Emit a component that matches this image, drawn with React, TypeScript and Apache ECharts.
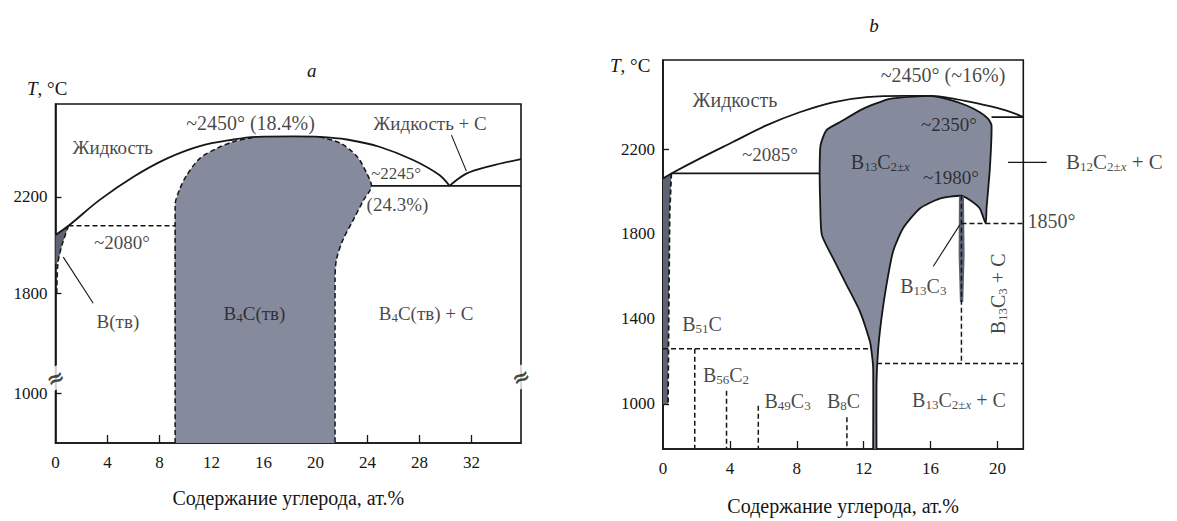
import React, { useEffect, useRef } from "react";
import * as echarts from "echarts";

type Pt = [number, number];

const SERIF = '"Liberation Serif", "Times New Roman", Times, serif';
const INK = "#161616";
const PHASE = "#858b9c";
const PHASE_DARK = "#5e6373";

// ---------------- Panel a: B–C diagram, temperature axis broken below 1800 °C
const A_X_MAX = 35.8;
const A_T_MIN = 600;
const A_T_MAX = 2584;
const A_X_TICKS = [0, 4, 8, 12, 16, 20, 24, 28, 32];
const A_T_TICKS = [1000, 1800, 2200];
const A_BREAK_TOP = 1800;
const A_POS_1000 = 1387; // axis position of the 1000 °C tick after the break
const A_LOW_SCALE = 0.516; // compression of the range below the break
const A_FAR = -4000; // closing corner of filled fields, well below the frame

const aY = (t: number) => (t >= A_BREAK_TOP ? t : A_POS_1000 + (t - 1000) * A_LOW_SCALE);

// liquidus from boron to the eutectic at 30.3 % C, through the B4C maximum
const A_LIQUIDUS: Pt[] = [
  [0, 2042], [1.0, 2080], [3.4, 2187], [6.0, 2283], [8.55, 2358], [11.1, 2410],
  [13.7, 2437], [15.5, 2448], [18.4, 2450], [20.3, 2448], [22.4, 2437],
  [24.9, 2407], [27.5, 2352], [29.55, 2289], [30.3, 2245],
];
// liquidus of carbon beyond the eutectic
const A_LIQUIDUS_C: Pt[] = [[30.3, 2245], [31.6, 2296], [33.5, 2328], [35.8, 2356]];
const A_EUTECTIC: Pt[] = [[24.3, 2245], [35.8, 2245]];
const A_LINE_2080: Pt[] = [[1.0, 2080], [9.2, 2080]];

// B4C homogeneity field
const A_B4C_LEFT: Pt[] = [
  [9.2, A_T_MIN], [9.2, 2165], [9.57, 2234], [10.1, 2290], [11.1, 2359], [12.4, 2400],
  [13.67, 2428], [15.2, 2445],
];
const A_B4C_TOP: Pt[] = [[18.4, 2450]];
const A_B4C_RIGHT: Pt[] = [
  [20.3, 2448], [21.9, 2422], [23.2, 2366], [23.95, 2296], [24.3, 2245], [23.7, 2187],
  [22.9, 2104], [22.1, 2021], [21.6, 1938], [21.5, 1855], [21.5, A_T_MIN],
];
// solid solution of carbon in boron
const A_B_SOLID: Pt[] = [[0, 2042], [1.0, 2080], [0.5, 2000], [0.2, 1930], [0, 1920]];
const A_B_SOLVUS: Pt[] = [[1.0, 2080], [0.5, 2000], [0.2, 1930], [0.12, 1850], [0.1, 1790]];

const A_LEADERS: Pt[][] = [
  [[0.6, 1950], [2.9, 1721]],
  [[30.45, 2455], [31.6, 2306]],
];

interface Note { text: string; at: Pt; size?: number; rotate?: number; font?: string }

const A_NOTES: Note[] = [
  { text: "Жидкость", at: [4.4, 2405] },
  { text: "~2450° (18.4%)", at: [15.0, 2505], size: 20 },
  { text: "Жидкость + C", at: [28.8, 2505] },
  { text: "~2245°", at: [26.2, 2298], size: 17 },
  { text: "(24.3%)", at: [26.3, 2166], size: 19 },
  { text: "~2080°", at: [5.1, 2009], size: 19 },
  { text: "B(тв)", at: [4.8, 1571] },
  { text: "B{s|4}C(тв)", at: [15.3, 1642] },
  { text: "B{s|4}C(тв) + C", at: [28.5, 1642] },
];
// axis-break marks on both frame sides
const A_BREAKS: Pt[] = [[0, 1121], [35.8, 1130]];

// ---------------- Panel b: refined B–C diagram
const B_X_MAX = 21.55;
const B_T_MIN = 788;
const B_T_MAX = 2619;
const B_X_TICKS = [0, 4, 8, 12, 16, 20];
const B_T_TICKS = [1000, 1400, 1800, 2200];
const B_FAR = -3000;

const B_LIQUIDUS: Pt[] = [
  [0, 2061], [0.5, 2085], [2.19, 2155], [4.18, 2233], [6.18, 2311], [8.17, 2373],
  [10.17, 2420], [12.17, 2444], [14.5, 2450], [16, 2450], [17.5, 2435],
  [18.95, 2412], [20.55, 2381], [21.55, 2350],
];
const B_LINE_2085: Pt[] = [[0.5, 2085], [9.37, 2085]];
const B_LINE_2350: Pt[] = [[19.65, 2350], [21.55, 2350]];

// B13C2±x field: left edge up, top, right edge down, then around the B13C3 dome and the stem
const B_B13C2: Pt[] = [
  [12.57, B_T_MIN], [12.57, 1171], [12.47, 1249], [12.37, 1296], [11.77, 1437], [10.97, 1562],
  [10.17, 1686], [9.5, 1796], [9.4, 1952], [9.37, 2092], [9.42, 2217], [9.77, 2288],
  [10.57, 2326], [11.96, 2389], [13.56, 2436], [15.2, 2448], [16, 2450], [16.96, 2436],
  [18.16, 2405], [18.95, 2373], [19.45, 2342], [19.65, 2311], [19.55, 2108], [19.35, 1920],
  [19.3, 1850], [18.95, 1920], [18.35, 1960], [17.8, 1980], [16.55, 1967], [15.36, 1920],
  [14.36, 1827], [13.76, 1718], [13.37, 1562], [13.07, 1405], [12.86, 1249], [12.77, 1093],
  [12.77, B_T_MIN],
];
const B_B_SOLID: Pt[] = [[0, 2061], [0.5, 2085], [0.4, 1900], [0.34, 1400], [0.3, 1000], [0, 1000]];
const B_B_SOLVUS: Pt[] = [[0.5, 2085], [0.4, 1900], [0.34, 1400], [0.3, 1000]];
const B_B13C3: Pt[] = [[17.7, 1978], [18.0, 1978], [18.04, 1700], [17.96, 1480], [17.76, 1480], [17.68, 1700]];

const B_DASHED: Pt[][] = [
  [[0, 1260], [12.45, 1260]],
  [[12.8, 1190], [21.55, 1190]],
  [[17.85, 1850], [21.55, 1850]],
  [[17.85, 1980], [17.85, 1190]],
  [[1.9, 1260], [1.9, B_T_MIN]],
  [[3.8, 1062], [3.8, B_T_MIN]],
  [[5.7, 992], [5.7, B_T_MIN]],
  [[11.0, 937], [11.0, B_T_MIN]],
];
const B_LEADERS: Pt[][] = [
  [[17.75, 1843], [16.16, 1647]],
  [[20.63, 2137], [22.95, 2137]],
];

const B_NOTES: Note[] = [
  { text: "Жидкость", at: [4.3, 2432], size: 20 },
  { text: "~2450° (~16%)", at: [16.75, 2549], size: 20 },
  { text: "~2350°", at: [17.1, 2315] },
  { text: "B{s|13}C{s|2±}{si|x}", at: [13.0, 2137], size: 20 },
  { text: "~1980°", at: [17.22, 2066] },
  { text: "~2085°", at: [6.4, 2174] },
  { text: "B{s|12}C{s|2±}{si|x} + C", at: [27.0, 2137], size: 21 },
  { text: "1850°", at: [23.23, 1862], size: 20 },
  { text: "B{s|13}C{s|3}", at: [15.57, 1556], size: 20 },
  { text: "B{s|13}C{s|3} + C", at: [20.03, 1518], rotate: 90, size: 20 },
  { text: "B{s|13}C{s|2±}{si|x} + C", at: [17.7, 1017], size: 20 },
  { text: "B{s|51}C", at: [2.33, 1378], size: 20 },
  { text: "B{s|56}C{s|2}", at: [3.77, 1136], size: 20 },
  { text: "B{s|49}C{s|3}", at: [7.45, 1013], size: 20 },
  { text: "B{s|8}C", at: [10.8, 1013], size: 20 },
];

const X_TITLE = "Содержание углерода, ат.%";

const RICH = {
  s: { fontSize: 13, lineHeight: 12, verticalAlign: "bottom", fontFamily: SERIF, color: INK },
  si: { fontSize: 13, lineHeight: 12, verticalAlign: "bottom", fontStyle: "italic", fontFamily: SERIF, color: INK },
  i: { fontStyle: "italic", fontSize: 19, fontFamily: SERIF, color: INK },
};

const tf = (panel: number) => (panel === 0 ? aY : (t: number) => t);

function lineSeries(pts: Pt[], panel: number, o: { smooth?: number; dash?: boolean; width?: number } = {}) {
  const f = tf(panel);
  return {
    type: "line",
    xAxisIndex: panel,
    yAxisIndex: panel,
    data: pts.map((p) => [p[0], f(p[1])]),
    symbol: "none",
    silent: true,
    smooth: o.smooth ?? 0,
    lineStyle: { color: INK, width: o.width ?? 1.8, type: o.dash ? [5, 3] : "solid" },
    z: 3,
  };
}

// thin leader lines, allowed to leave the frame
function leaderSeries(pts: Pt[], panel: number) {
  const f = tf(panel);
  const first = pts[0];
  return {
    type: "custom",
    coordinateSystem: "cartesian2d",
    xAxisIndex: panel,
    yAxisIndex: panel,
    clip: false,
    silent: true,
    z: 4,
    data: [[first[0], f(first[1])]],
    renderItem: (_p: any, api: any) => ({
      type: "polyline",
      shape: { points: pts.map((p) => api.coord([p[0], f(p[1])])) },
      style: { fill: "none", stroke: INK, lineWidth: 1.1 },
    }),
  };
}

function areaSeries(pts: Pt[], panel: number, fill: string, stroke: string | null, smooth: number) {
  const f = tf(panel);
  const mid = pts[Math.floor(pts.length / 2)];
  return {
    type: "custom",
    coordinateSystem: "cartesian2d",
    xAxisIndex: panel,
    yAxisIndex: panel,
    clip: true,
    silent: true,
    z: 1,
    data: [[mid[0], f(mid[1])]],
    renderItem: (_p: any, api: any) => ({
      type: "polygon",
      shape: { points: pts.map((p) => api.coord([p[0], f(p[1])])), smooth },
      style: { fill, stroke: stroke ?? "none", lineWidth: 1.8 },
    }),
  };
}

function noteSeries(notes: Note[], panel: number) {
  const f = tf(panel);
  return {
    type: "scatter",
    xAxisIndex: panel,
    yAxisIndex: panel,
    silent: true,
    clip: false,
    symbolSize: 1,
    itemStyle: { color: "rgba(0,0,0,0)" },
    z: 5,
    label: {
      show: true,
      position: "inside",
      color: INK,
      fontFamily: SERIF,
      fontSize: 19,
      lineHeight: 22,
      rich: RICH,
    },
    data: notes.map((n) => ({
      value: [n.at[0], f(n.at[1])],
      label: {
        formatter: n.text,
        rotate: n.rotate ?? 0,
        fontSize: n.size ?? 19,
        ...(n.font ? { fontFamily: n.font, fontWeight: "bold", backgroundColor: "#fff", padding: [0, 1] } : {}),
      },
    })),
  };
}

function xAxis(panel: number, max: number, ticks: number[]) {
  return {
    type: "value",
    gridIndex: panel,
    min: 0,
    max,
    axisLine: { show: true, lineStyle: { color: INK, width: 1.6 } },
    axisTick: { show: true, inside: true, length: 8, customValues: ticks.filter((v) => v > 0), lineStyle: { color: INK, width: 1.3 } },
    axisLabel: { customValues: ticks, margin: 11, fontSize: 17, fontFamily: SERIF, color: INK },
    splitLine: { show: false },
    name: X_TITLE,
    nameLocation: "middle",
    nameGap: panel === 0 ? 45 : 47,
    nameTextStyle: { fontSize: 20, fontFamily: SERIF, color: INK },
  };
}

function yAxis(panel: number, min: number, max: number, ticks: number[]) {
  const f = tf(panel);
  const pos = ticks.map(f);
  return {
    type: "value",
    gridIndex: panel,
    min,
    max,
    axisLine: { show: true, lineStyle: { color: INK, width: 1.6 } },
    axisTick: { show: true, inside: true, length: 6, customValues: pos, lineStyle: { color: INK, width: 1.3 } },
    axisLabel: {
      customValues: pos,
      margin: 8,
      fontSize: 17,
      fontFamily: SERIF,
      color: INK,
      formatter: (v: number) => {
        const hit = ticks.find((t) => Math.abs(f(t) - v) < 0.5);
        return hit === undefined ? "" : String(hit);
      },
    },
    splitLine: { show: false },
  };
}

function buildOption() {
  const series: any[] = [];

  // panel a
  const b4cField: Pt[] = [
    [A_B4C_LEFT[0][0], A_FAR], ...A_B4C_LEFT, ...A_B4C_TOP, ...A_B4C_RIGHT,
    [A_B4C_RIGHT[A_B4C_RIGHT.length - 1][0], A_FAR],
  ];
  series.push(areaSeries(b4cField, 0, PHASE, null, 0.25));
  series.push(areaSeries(A_B_SOLID, 0, PHASE_DARK, null, 0));
  series.push(lineSeries(A_LIQUIDUS, 0, { smooth: 0.35 }));
  series.push(lineSeries(A_LIQUIDUS_C, 0, { smooth: 0.35 }));
  series.push(lineSeries(A_EUTECTIC, 0));
  series.push(lineSeries(A_LINE_2080, 0, { dash: true, width: 1.5 }));
  series.push(lineSeries(A_B4C_LEFT, 0, { dash: true, smooth: 0.3, width: 1.5 }));
  series.push(lineSeries(A_B4C_RIGHT, 0, { dash: true, smooth: 0.3, width: 1.5 }));
  series.push(lineSeries(A_B_SOLVUS, 0, { dash: true, smooth: 0.3, width: 1.5 }));
  A_LEADERS.forEach((l) => series.push(leaderSeries(l, 0)));
  series.push(noteSeries(A_NOTES, 0));
  series.push(
    noteSeries(A_BREAKS.map((p) => ({ text: "≈", at: p, rotate: 25, size: 22, font: '"DejaVu Sans", sans-serif' })), 0)
  );

  // panel b
  const b13c2Field: Pt[] = [
    [B_B13C2[0][0], B_FAR], ...B_B13C2, [B_B13C2[B_B13C2.length - 1][0], B_FAR],
  ];
  series.push(areaSeries(b13c2Field, 1, PHASE, INK, 0.2));
  series.push(areaSeries(B_B_SOLID, 1, PHASE_DARK, null, 0));
  series.push(areaSeries(B_B13C3, 1, PHASE_DARK, null, 0));
  series.push(lineSeries(B_LIQUIDUS, 1, { smooth: 0.35 }));
  series.push(lineSeries(B_LINE_2085, 1));
  series.push(lineSeries(B_LINE_2350, 1));
  series.push(lineSeries(B_B_SOLVUS, 1, { dash: true, width: 1.8 }));
  B_DASHED.forEach((l) => series.push(lineSeries(l, 1, { dash: true, width: 1.5 })));
  B_LEADERS.forEach((l) => series.push(leaderSeries(l, 1)));
  series.push(noteSeries(B_NOTES, 1));

  const textEl = (x: number, y: number, text: string, align: string, italic = false) => ({
    type: "text",
    x,
    y,
    silent: true,
    style: {
      text,
      fill: INK,
      font: `${italic ? "italic " : ""}19px ${SERIF}`,
      align,
      verticalAlign: "middle",
      textAlign: align,
      textVerticalAlign: "middle",
      rich: RICH,
    },
  });

  return {
    animation: false,
    backgroundColor: "#ffffff",
    grid: [
      { left: 55.5, top: 104, width: 465.5, height: 339, show: true, borderColor: INK, borderWidth: 1.6, containLabel: false },
      { left: 663, top: 60, width: 360.3, height: 391, show: true, borderColor: INK, borderWidth: 1.6, containLabel: false },
    ],
    xAxis: [xAxis(0, A_X_MAX, A_X_TICKS), xAxis(1, B_X_MAX, B_X_TICKS)],
    yAxis: [yAxis(0, aY(A_T_MIN), A_T_MAX, A_T_TICKS), yAxis(1, B_T_MIN, B_T_MAX, B_T_TICKS)],
    graphic: [
      textEl(311.7, 70, "a", "center", true),
      textEl(874, 25, "b", "center", true),
      textEl(27, 88, "{i|T}, °C", "left"),
      textEl(610, 65, "{i|T}, °C", "left"),
    ],
    series,
  };
}

export default function App() {
  const ref = useRef<HTMLDivElement>(null);
  useEffect(() => {
    if (!ref.current) return;
    const chart = echarts.init(ref.current, undefined, { renderer: "svg" });
    chart.setOption(buildOption() as any);
    return () => chart.dispose();
  }, []);
  return (
    <div
      ref={ref}
      style={{ position: "fixed", left: 0, top: 0, width: 1177, height: 521, background: "#fff" }}
    />
  );
}
